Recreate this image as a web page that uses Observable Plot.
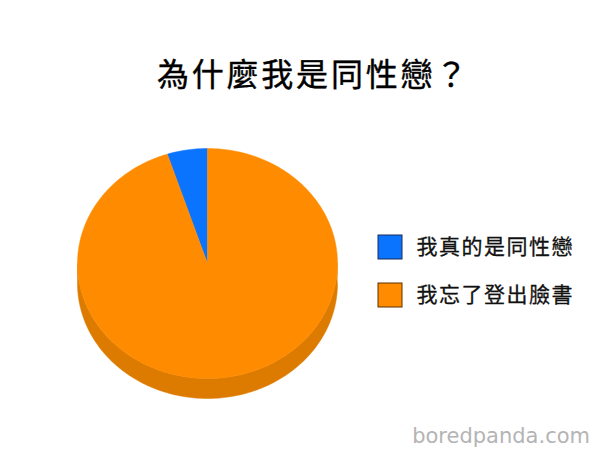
<!DOCTYPE html>
<html><head><meta charset="utf-8">
<script src="https://cdn.jsdelivr.net/npm/d3@7"></script>
<script src="https://cdn.jsdelivr.net/npm/@observablehq/plot@0.6"></script>
<style>
body{margin:0;background:#fff;}
#wrap{position:relative;width:605px;height:463px;overflow:hidden;background:#fff;font-family:"Noto Sans CJK TC","Noto Sans CJK SC",sans-serif;}
#title{position:absolute;left:11px;top:56px;width:605px;height:32px;line-height:32px;font-size:32px;font-weight:400;text-align:center;letter-spacing:2.8px;color:#000;-webkit-text-stroke:0.4px #000;}
#chart{position:absolute;left:0;top:110px;}
#credit{position:absolute;right:15px;top:422px;font-family:"DejaVu Sans",sans-serif;font-size:21px;color:#b4b4b4;line-height:28px;}
</style></head>
<body><div id="wrap">
<div id="title">為什麼我是同性戀？</div>
<div id="chart"></div>
<div id="credit">boredpanda.com</div>
</div>
<script>
const categories = ["我真的是同性戀", "我忘了登出臉書"];
const values = [5, 95];
const topColors = ["#0A74FF", "#FF8C00"];
const sideColors = ["#0058C8", "#DD7A00"];
const borderColors = ["#1a2a55", "#5a3000"];

const W = 605, H = 353;
const cx = 207, cy = 153, rx = 130, ry = 115, depth = 20;
const total = d3.sum(values);
const a0 = -2 * Math.PI * values[0] / total;
const arcs = d3.pie().sort(null).startAngle(a0).endAngle(a0 + 2 * Math.PI)(values);

const pt = (t, dy = 0) => [cx + rx * Math.sin(t), cy - ry * Math.cos(t) + dy];
const topPts = [], sidePts = [];
arcs.forEach((a, i) => {
  const span = a.endAngle - a.startAngle;
  const n = Math.max(4, Math.ceil(400 * span / (2 * Math.PI)));
  topPts.push({k: "t" + i, c: topColors[i], x: cx, y: cy});
  for (let j = 0; j <= n; j++) {
    const [x, y] = pt(a.startAngle + span * j / n);
    topPts.push({k: "t" + i, c: topColors[i], x, y});
  }
  topPts.push({k: "t" + i, c: topColors[i], x: cx, y: cy});
  [-2 * Math.PI, 0, 2 * Math.PI].forEach((off, m) => {
    const lo = Math.max(a.startAngle + off, Math.PI / 2);
    const hi = Math.min(a.endAngle + off, 3 * Math.PI / 2);
    if (hi <= lo) return;
    const key = "s" + i + "_" + m;
    const nn = Math.max(4, Math.ceil(400 * (hi - lo) / (2 * Math.PI)));
    for (let j = 0; j <= nn; j++) {
      const [x, y] = pt(lo + (hi - lo) * j / nn);
      sidePts.push({k: key, c: sideColors[i], x, y});
    }
    for (let j = nn; j >= 0; j--) {
      const [x, y] = pt(lo + (hi - lo) * j / nn, depth);
      sidePts.push({k: key, c: sideColors[i], x, y});
    }
  });
});

const legend = categories.map((name, i) => ({name, i, fill: topColors[i], stroke: borderColors[i]}));

const plot = Plot.plot({
  width: W, height: H,
  margin: 0,
  x: {domain: [0, W], axis: null},
  y: {domain: [H, 0], axis: null},
  color: {type: "identity"},
  style: {fontFamily: "'Noto Sans CJK TC','Noto Sans CJK SC',sans-serif", background: "#fff"},
  marks: [
    Plot.line(sidePts, {x: "x", y: "y", z: "k", fill: "c", stroke: "c", strokeWidth: 0.5, curve: "linear"}),
    Plot.line(topPts, {x: "x", y: "y", z: "k", fill: "c", stroke: "c", strokeWidth: 0.5, curve: "linear"}),
    Plot.rect(legend, {x1: 378, x2: 402, y1: d => 125 + d.i * 48, y2: d => 149 + d.i * 48, fill: "fill", stroke: "stroke", strokeWidth: 1}),
    Plot.text(legend, {x: 416, y: d => 137 + d.i * 48, text: "name", textAnchor: "start", fontSize: 21, fill: "#111", stroke: "#111", strokeWidth: 0.3})
  ]
});
plot.querySelectorAll("text").forEach(t => t.setAttribute("letter-spacing", "1.5"));
document.getElementById("chart").append(plot);
</script>
</body></html>
